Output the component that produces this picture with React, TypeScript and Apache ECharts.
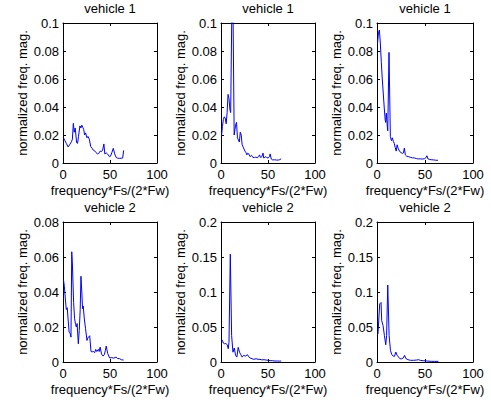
import React, { useEffect, useRef } from "react";
import * as echarts from "echarts";

const panelTitles = ["vehicle 1", "vehicle 1", "vehicle 1", "vehicle 2", "vehicle 2", "vehicle 2"];
const xAxisName = "frequency*Fs/(2*Fw)";
const yAxisName = "normalized freq. mag.";
const xTicks = { min: 0, max: 100, interval: 50 };
const yMaxes = [0.1, 0.1, 0.1, 0.08, 0.2, 0.2];
const yIntervals = [0.02, 0.02, 0.02, 0.02, 0.05, 0.05];

const vehicle1a: number[][] = [
  [0.5, 0.018], [2, 0.016], [3.5, 0.014], [5.5, 0.0115], [7, 0.013], [9, 0.0152], [10, 0.017],
  [11, 0.0283], [12, 0.022], [13, 0.025], [14.5, 0.0145], [15.5, 0.014], [16.5, 0.019], [18, 0.0265],
  [19, 0.025], [20, 0.027], [21, 0.0255], [22, 0.024], [23, 0.02], [24, 0.0215], [25.5, 0.018],
  [26.5, 0.019], [28, 0.017], [29.5, 0.0117], [31, 0.0105], [32, 0.0093], [33.5, 0.0088], [35, 0.0075],
  [36.5, 0.0065], [38, 0.0068], [39.5, 0.0085], [41, 0.0082], [42.2, 0.0093], [43.5, 0.0136],
  [44.5, 0.0065], [46, 0.0072], [47.5, 0.0063], [49.5, 0.0045], [50.5, 0.0048], [52, 0.0075],
  [53.5, 0.0105], [55, 0.0065], [56.5, 0.004], [58, 0.0035], [60, 0.0033], [62, 0.0034],
  [63.5, 0.0036], [64.5, 0.009],
];

const vehicle1b: number[][] = [
  [0.5, 0.019], [1.5, 0.026], [2.5, 0.031], [3.5, 0.033], [4.5, 0.032], [5.5, 0.028], [6.5, 0.036],
  [7.5, 0.049], [8.5, 0.046], [9.5, 0.038], [10.3, 0.036], [12.2, 0.15], [14, 0.02], [15.5, 0.027],
  [16.5, 0.029], [17.5, 0.018], [18.5, 0.0165], [19.5, 0.015], [20.5, 0.022], [21.5, 0.02],
  [22.5, 0.013], [23.5, 0.0115], [24.5, 0.01], [25.5, 0.0085], [26.5, 0.0075], [27.5, 0.0058],
  [28.5, 0.007], [29.5, 0.0065], [31, 0.0045], [32.5, 0.0055], [34, 0.004], [35.5, 0.0038],
  [37, 0.0042], [38.5, 0.0038], [40, 0.0045], [41, 0.0058], [42, 0.004], [43.5, 0.0045],
  [44.7, 0.0071], [45.5, 0.0035], [47, 0.0045], [48.5, 0.004], [50, 0.0035], [51.5, 0.0045],
  [52.3, 0.0065], [53.5, 0.0028], [55, 0.0022], [57, 0.0023], [59, 0.0021], [61, 0.0021],
  [62.5, 0.0024], [64, 0.003],
];

const vehicle1c: number[][] = [
  [0.5, 0.085], [1.5, 0.093], [2.5, 0.095], [3.5, 0.085], [4.5, 0.072], [5.5, 0.06], [6.5, 0.05],
  [7.5, 0.04], [8.5, 0.031], [9, 0.029], [9.7, 0.0357], [10.5, 0.028], [11.2, 0.023], [12.5, 0.079],
  [13.9, 0.019], [15, 0.016], [16, 0.018], [17, 0.0155], [18, 0.014], [19, 0.011], [20, 0.0085],
  [21, 0.013], [22, 0.0105], [23.5, 0.0083], [25, 0.0075], [26.5, 0.0068], [27.5, 0.0072],
  [28.5, 0.0107], [29.5, 0.0058], [31, 0.0048], [33, 0.0045], [35, 0.004], [37, 0.0037],
  [39, 0.0036], [41, 0.0032], [43, 0.0029], [45, 0.003], [47, 0.0028], [49.5, 0.0031], [51, 0.0038],
  [52, 0.0052], [53, 0.003], [55, 0.0025], [57, 0.0023], [59, 0.0022], [61, 0.002], [63.5, 0.0019],
];

const vehicle2a: number[][] = [
  [0.5, 0.047], [1.5, 0.043], [2.5, 0.036], [3.5, 0.03], [4.5, 0.031], [5.5, 0.024], [6.5, 0.017],
  [7.5, 0.0165], [8.5, 0.0142], [9.3, 0.063], [10, 0.056], [11.3, 0.034], [12.3, 0.025],
  [13.3, 0.0215], [14.2, 0.02], [15, 0.022], [16.3, 0.0104], [17.3, 0.018], [18.3, 0.03],
  [19.1, 0.049], [20, 0.04], [20.8, 0.0305], [21.5, 0.032], [22.7, 0.0246], [24, 0.019],
  [25.5, 0.0123], [26.5, 0.0138], [27.5, 0.0145], [28.4, 0.015], [29.8, 0.006], [31, 0.0058],
  [32.5, 0.006], [33.7, 0.0053], [34.8, 0.0072], [36, 0.006], [37.6, 0.0072], [38.5, 0.006],
  [39.5, 0.0085], [41, 0.0045], [42.6, 0.0034], [44, 0.0042], [45, 0.0065], [46, 0.0091],
  [47.5, 0.005], [49.6, 0.0023], [52, 0.0025], [54, 0.0022], [56.5, 0.0028], [58, 0.002],
  [60.3, 0.0019], [62, 0.0013], [64.5, 0.0011],
];

const vehicle2b: number[][] = [
  [0.5, 0.03], [1.5, 0.031], [2.5, 0.027], [3.5, 0.026], [4.5, 0.0265], [5.5, 0.026], [6.5, 0.025],
  [7.7, 0.019], [8.5, 0.028], [9.9, 0.154], [11.3, 0.038], [12.7, 0.014], [14.1, 0.02],
  [15.5, 0.0095], [16.9, 0.007], [18.3, 0.021], [19.7, 0.014], [21.1, 0.0104], [22.5, 0.007],
  [24, 0.0095], [26, 0.0085], [28.2, 0.0104], [29.5, 0.0075], [31, 0.0057], [33, 0.0047],
  [35, 0.0038], [37.3, 0.0047], [39.5, 0.0038], [41.5, 0.0038], [43.5, 0.003], [45.8, 0.0033],
  [48, 0.0028], [50.4, 0.0024], [53, 0.002], [55, 0.0018], [57.4, 0.0014], [60, 0.0014],
  [62, 0.0013], [64, 0.0014],
];

const vehicle2c: number[][] = [
  [1, 0.04], [2.8, 0.083], [4.2, 0.085], [4.9, 0.059], [6.3, 0.052], [7.7, 0.038], [9.1, 0.0246],
  [10, 0.038], [11.2, 0.11], [12.6, 0.038], [14, 0.0166], [15.4, 0.0104], [16.8, 0.0085],
  [18.2, 0.008], [19.6, 0.0142], [21, 0.0095], [22.4, 0.0071], [23.8, 0.0047], [25.5, 0.0045],
  [27.3, 0.0057], [28.7, 0.0095], [30, 0.005], [32.2, 0.0033], [35, 0.0024], [38, 0.0024],
  [41.3, 0.0028], [43.4, 0.0033], [45.5, 0.0022], [48.3, 0.0019], [52, 0.0014], [57, 0.0009],
  [60, 0.0009], [64, 0.0009],
];

const seriesData = [vehicle1a, vehicle1b, vehicle1c, vehicle2a, vehicle2b, vehicle2c];

const FONT = "'Liberation Sans', Arial, Helvetica, sans-serif";
const colLefts = [63, 221, 377];
const colWidths = [94, 94, 96];
const rowTops = [23, 222];
const rowHeight = 140;

export default function App() {
  const ref = useRef<HTMLDivElement>(null);
  useEffect(() => {
    if (!ref.current) return;
    const chart = echarts.init(ref.current, undefined, { renderer: "svg" });
    const grids: any[] = [];
    const xAxes: any[] = [];
    const yAxes: any[] = [];
    const series: any[] = [];
    const graphics: any[] = [];
    const axisLine = { show: true, onZero: false, lineStyle: { color: "#000", width: 1 } };
    const tick = { show: true, inside: true, length: 3, lineStyle: { color: "#000", width: 1 } };
    const label = { color: "#000", fontSize: 13, fontFamily: FONT };
    for (let i = 0; i < 6; i++) {
      const r = Math.floor(i / 3);
      const c = i % 3;
      const left = colLefts[c];
      const width = colWidths[c];
      const top = rowTops[r];
      grids.push({ left, top, width, height: rowHeight, containLabel: false, show: false });
      xAxes.push({
        type: "value", gridIndex: i, position: "bottom", ...xTicks,
        axisLine, axisTick: tick, splitLine: { show: false },
        axisLabel: { ...label, margin: 5 },
        name: xAxisName, nameLocation: "middle", nameGap: 21,
        nameTextStyle: { ...label },
      });
      yAxes.push({
        type: "value", gridIndex: i, position: "left", min: 0, max: yMaxes[i], interval: yIntervals[i],
        axisLine, axisTick: tick, splitLine: { show: false },
        axisLabel: { ...label, margin: 4 },
        name: yAxisName, nameLocation: "middle", nameGap: 34,
        nameTextStyle: { ...label },
      });
      series.push({
        type: "line", xAxisIndex: i, yAxisIndex: i, data: seriesData[i], showSymbol: false,
        symbol: "none", clip: true, lineStyle: { color: "#0000ff", width: 1 }, silent: true,
      });
      graphics.push({
        type: "text", x: left + width / 2, y: top - 15,
        style: { text: panelTitles[i], align: "center", verticalAlign: "middle", font: `13px ${FONT}`, fill: "#000" },
      });
    }
    for (let i = 0; i < 6; i++) {
      xAxes.push({
        type: "value", gridIndex: i, position: "top", ...xTicks,
        axisLine, axisTick: tick, axisLabel: { show: false }, splitLine: { show: false },
      });
      yAxes.push({
        type: "value", gridIndex: i, position: "right", min: 0, max: yMaxes[i], interval: yIntervals[i],
        axisLine, axisTick: tick, axisLabel: { show: false }, splitLine: { show: false },
      });
    }
    chart.setOption({
      animation: false,
      backgroundColor: "#fff",
      grid: grids,
      xAxis: xAxes,
      yAxis: yAxes,
      series,
      graphic: graphics,
    });
    return () => chart.dispose();
  }, []);
  return (
    <div
      ref={ref}
      style={{ position: "absolute", left: 0, top: 0, width: 491, height: 402 }}
    />
  );
}
